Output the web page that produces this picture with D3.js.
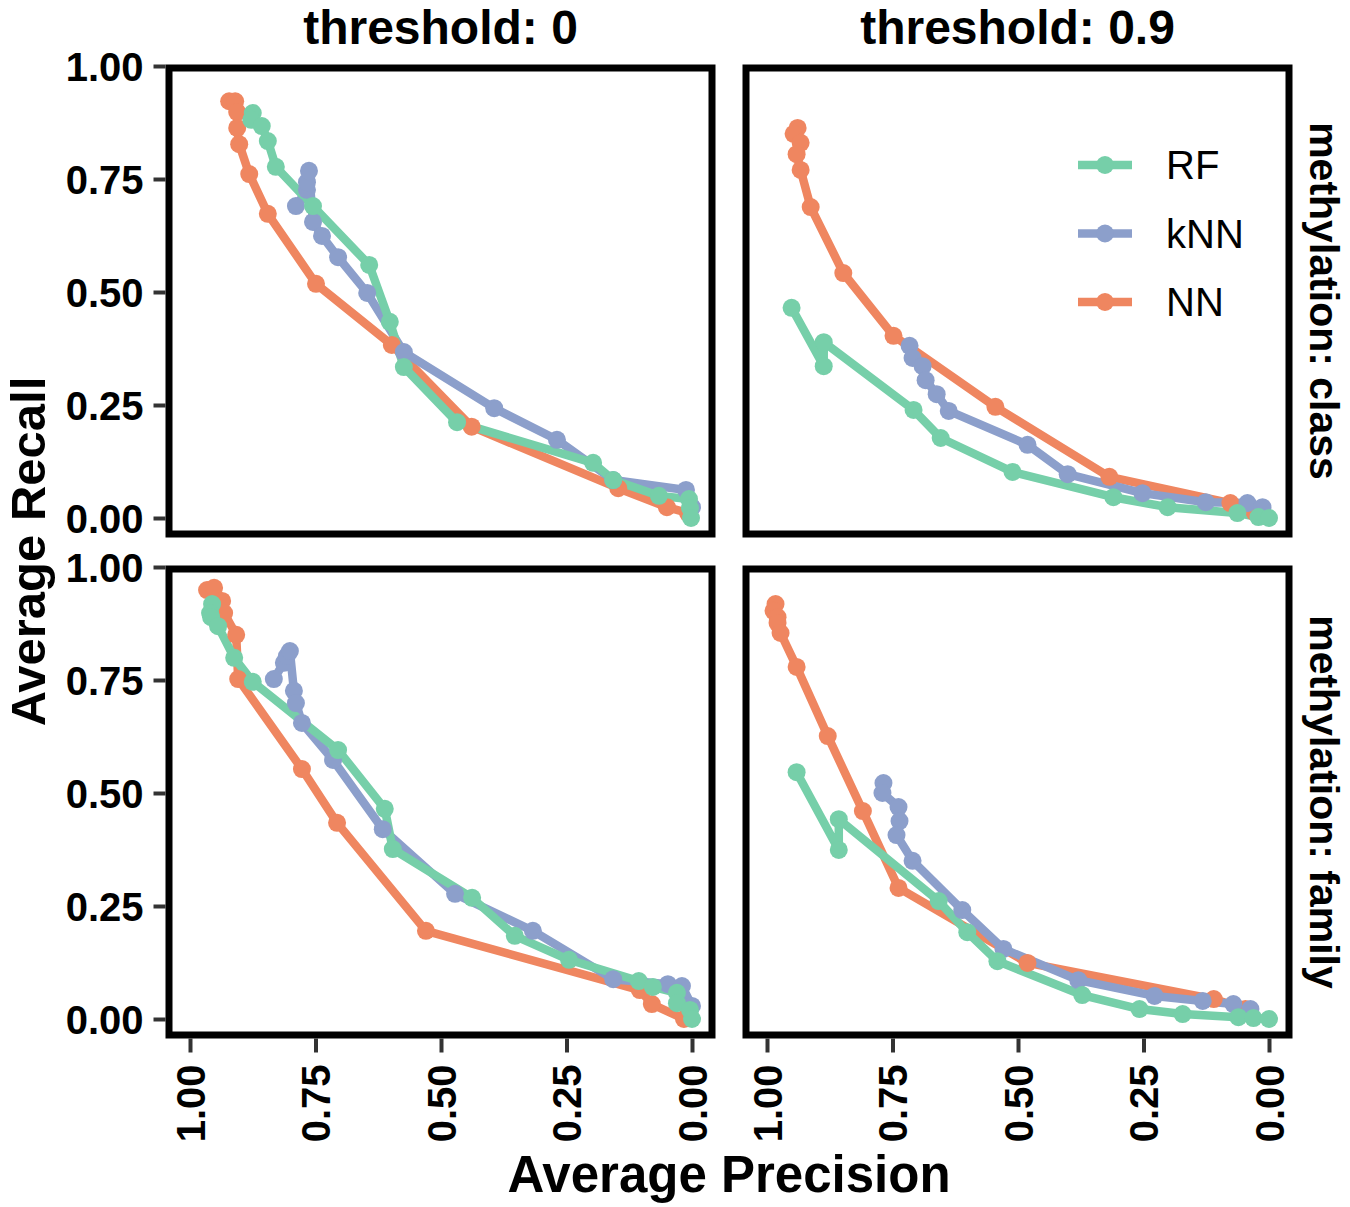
<!DOCTYPE html>
<html>
<head>
<meta charset="utf-8">
<script src="https://cdn.jsdelivr.net/npm/d3@7"></script>
<style>
  body { margin: 0; background: #fff; }
  text { font-family: "Liberation Sans", Arial, Helvetica, sans-serif; }
</style>
</head>
<body>
<script>
// Facet labels
const thresholds = ["threshold: 0", "threshold: 0.9"];
const levels = ["methylation: class", "methylation: family"];
const models = ["RF", "kNN", "NN"];
const tickValues = [0, 0.25, 0.5, 0.75, 1];

// [precision, recall] per model and panel
// threshold 0, class
const rfT0Class = [[0.875,0.896],[0.878,0.881],[0.857,0.867],[0.845,0.834],[0.829,0.777],[0.755,0.690],[0.643,0.560],[0.602,0.434],[0.574,0.334],[0.468,0.212],[0.197,0.122],[0.157,0.084],[0.066,0.049],[0.006,0.042],[0.004,0.022],[0.002,0.0]];
const knnT0Class = [[0.789,0.690],[0.767,0.726],[0.767,0.743],[0.763,0.768],[0.755,0.655],[0.737,0.624],[0.705,0.577],[0.647,0.498],[0.574,0.367],[0.394,0.243],[0.269,0.173],[0.157,0.084],[0.012,0.062],[0.0,0.024]];
const nnT0Class = [[0.922,0.922],[0.910,0.922],[0.906,0.898],[0.906,0.863],[0.902,0.827],[0.882,0.761],[0.845,0.673],[0.749,0.518],[0.598,0.383],[0.439,0.202],[0.147,0.066],[0.050,0.024],[0.008,0.011]];
// threshold 0.9, class
const rfT9Class = [[0.951,0.465],[0.887,0.336],[0.887,0.389],[0.708,0.239],[0.654,0.177],[0.511,0.102],[0.310,0.046],[0.202,0.024],[0.063,0.011],[0.021,0.002],[0.0,0.0]];
const knnT9Class = [[0.716,0.381],[0.710,0.354],[0.690,0.336],[0.684,0.305],[0.662,0.274],[0.638,0.237],[0.481,0.162],[0.401,0.097],[0.252,0.055],[0.126,0.035],[0.043,0.033],[0.013,0.024]];
const nnT9Class = [[0.939,0.863],[0.947,0.850],[0.933,0.830],[0.941,0.805],[0.933,0.770],[0.913,0.688],[0.848,0.542],[0.748,0.403],[0.545,0.246],[0.318,0.091],[0.077,0.033],[0.029,0.013]];
// threshold 0, family
const rfT0Family = [[0.956,0.918],[0.960,0.898],[0.958,0.889],[0.944,0.869],[0.912,0.799],[0.875,0.746],[0.705,0.595],[0.612,0.465],[0.596,0.376],[0.438,0.268],[0.353,0.184],[0.245,0.131],[0.106,0.084],[0.078,0.071],[0.030,0.058],[0.030,0.035],[0.004,0.020],[0.0,0.0]];
const knnT0Family = [[0.833,0.752],[0.813,0.788],[0.807,0.803],[0.801,0.814],[0.793,0.726],[0.789,0.699],[0.777,0.655],[0.715,0.573],[0.616,0.420],[0.472,0.277],[0.317,0.195],[0.157,0.088],[0.048,0.077],[0.020,0.073],[0.0,0.029]];
const nnT0Family = [[0.966,0.949],[0.952,0.954],[0.936,0.925],[0.932,0.898],[0.908,0.850],[0.904,0.752],[0.777,0.553],[0.707,0.434],[0.530,0.195],[0.104,0.064],[0.080,0.033],[0.016,0.0]];
// threshold 0.9, family
const rfT9Family = [[0.941,0.546],[0.857,0.374],[0.857,0.442],[0.658,0.261],[0.601,0.192],[0.541,0.128],[0.372,0.053],[0.258,0.022],[0.172,0.011],[0.061,0.004],[0.031,0.002],[0.0,0.0]];
const knnT9Family = [[0.768,0.522],[0.770,0.500],[0.738,0.469],[0.736,0.438],[0.742,0.407],[0.710,0.350],[0.611,0.241],[0.529,0.155],[0.380,0.086],[0.228,0.051],[0.132,0.040],[0.071,0.033],[0.037,0.022]];
const nnT9Family = [[0.983,0.918],[0.987,0.903],[0.979,0.889],[0.979,0.876],[0.973,0.854],[0.941,0.779],[0.879,0.626],[0.809,0.460],[0.738,0.290],[0.481,0.124],[0.110,0.044],[0.047,0.022]];

const color = d3.scaleOrdinal().domain(models).range(["#76cfa9", "#8c9fcb", "#ef8660"]);

const panels = [
  { col: 0, row: 0, series: { RF: rfT0Class, kNN: knnT0Class, NN: nnT0Class } },
  { col: 1, row: 0, series: { RF: rfT9Class, kNN: knnT9Class, NN: nnT9Class } },
  { col: 0, row: 1, series: { RF: rfT0Family, kNN: knnT0Family, NN: nnT0Family } },
  { col: 1, row: 1, series: { RF: rfT9Family, kNN: knnT9Family, NN: nnT9Family } },
];

const width = 1350;
const height = 1207;
const panelW = 543;
const panelH = 466;
const panelX = [169, 746];
const panelY = [68, 569];

const svg = d3.select("body").append("svg")
  .attr("width", width)
  .attr("height", height);

// Reversed precision axis, recall axis
const x = d3.scaleLinear().domain([1, 0]).range([21, 523]);
const y = d3.scaleLinear().domain([0, 1]).range([450, -2]);

const line = d3.line().x((d) => x(d[0])).y((d) => y(d[1]));
const drawOrder = ["NN", "kNN", "RF"];

panels.forEach((p) => {
  const g = svg.append("g")
    .attr("transform", `translate(${panelX[p.col]}, ${panelY[p.row]})`);

  // lines first, then points
  drawOrder.forEach((m) => {
    g.append("path")
      .datum(p.series[m])
      .attr("d", line)
      .attr("fill", "none")
      .attr("stroke", color(m))
      .attr("stroke-width", 8.5)
      .attr("stroke-linejoin", "round");
  });
  drawOrder.forEach((m) => {
    g.selectAll(null)
      .data(p.series[m])
      .enter()
      .append("circle")
      .attr("cx", (d) => x(d[0]))
      .attr("cy", (d) => y(d[1]))
      .attr("r", 9)
      .attr("fill", color(m));
  });

  // panel frame
  g.append("rect")
    .attr("width", panelW)
    .attr("height", panelH)
    .attr("fill", "none")
    .attr("stroke", "#000")
    .attr("stroke-width", 7);

  // y axis on left column
  if (p.col === 0) {
    const yAxis = g.append("g")
      .attr("transform", "translate(-3.5, 0)")
      .call(d3.axisLeft(y).tickValues(tickValues).tickFormat(d3.format(".2f")).tickSize(12).tickPadding(10));
    yAxis.select(".domain").remove();
    yAxis.selectAll(".tick line").attr("stroke", "#333").attr("stroke-width", 4);
    yAxis.selectAll(".tick text")
      .attr("fill", "#000")
      .style("font-size", "40px")
      .style("font-weight", "bold")
      .attr("dy", "0.36em");
  }

  // x axis on bottom row
  if (p.row === 1) {
    const xAxis = g.append("g")
      .attr("transform", `translate(0, ${panelH + 3.5})`)
      .call(d3.axisBottom(x).tickValues(tickValues).tickFormat(d3.format(".2f")).tickSize(14));
    xAxis.select(".domain").remove();
    xAxis.selectAll(".tick line").attr("stroke", "#333").attr("stroke-width", 4);
    xAxis.selectAll(".tick text")
      .attr("fill", "#000")
      .style("font-size", "40px")
      .style("font-weight", "bold")
      .attr("text-anchor", "end")
      .attr("transform", "translate(0, 26) rotate(-90)")
      .attr("x", 0)
      .attr("y", 0)
      .attr("dy", "0.36em");
  }
});

// column strips
thresholds.forEach((t, i) => {
  svg.append("text")
    .attr("x", panelX[i] + panelW / 2)
    .attr("y", 44)
    .attr("text-anchor", "middle")
    .style("font-size", "48px")
    .style("font-weight", "bold")
    .text(t);
});

// row strips
levels.forEach((l, i) => {
  svg.append("text")
    .attr("transform", `translate(1325, ${panelY[i] + panelH / 2}) rotate(90)`)
    .attr("text-anchor", "middle")
    .attr("dy", "0.36em")
    .style("font-size", "41px")
    .style("font-weight", "bold")
    .text(l);
});

// axis titles
svg.append("text")
  .attr("x", (panelX[0] + panelX[1] + panelW) / 2)
  .attr("y", 1192)
  .attr("text-anchor", "middle")
  .style("font-size", "51px")
  .style("font-weight", "bold")
  .text("Average Precision");

svg.append("text")
  .attr("transform", `translate(45, ${(panelY[0] + panelY[1] + panelH) / 2}) rotate(-90)`)
  .attr("text-anchor", "middle")
  .style("font-size", "49px")
  .style("font-weight", "bold")
  .text("Average Recall");

// legend inside top-right panel
const legend = svg.append("g").attr("transform", "translate(1078, 165)");
models.forEach((m, i) => {
  const row = legend.append("g").attr("transform", `translate(0, ${i * 68.5})`);
  row.append("line")
    .attr("x1", 0).attr("x2", 54)
    .attr("stroke", color(m))
    .attr("stroke-width", 8.5);
  row.append("circle")
    .attr("cx", 27)
    .attr("r", 9)
    .attr("fill", color(m));
  row.append("text")
    .attr("x", 88)
    .attr("dy", "0.36em")
    .style("font-size", "40px")
    .text(m);
});
</script>
</body>
</html>
